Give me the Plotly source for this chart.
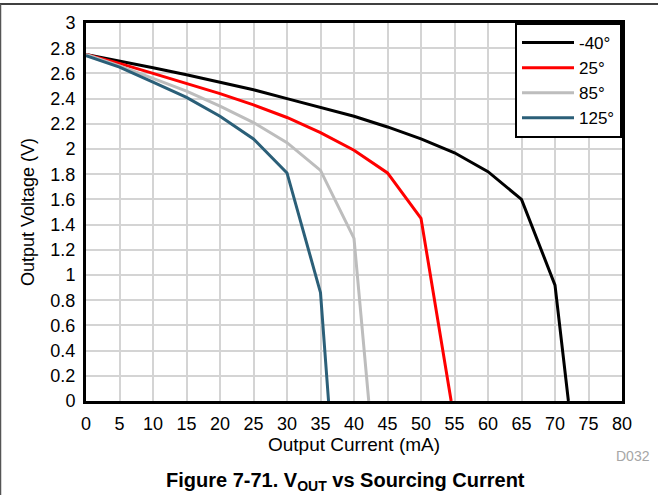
import plotly.graph_objects as go

# Data
current_m40 = [0, 5, 10, 15, 20, 25, 30, 35, 40, 45, 50, 55, 60, 65, 70, 72]
vout_m40 = [2.75, 2.70, 2.645, 2.59, 2.53, 2.47, 2.40, 2.33, 2.26, 2.175, 2.08, 1.97, 1.82, 1.60, 0.92, 0.0]

current_25 = [0, 5, 10, 15, 20, 25, 30, 35, 40, 45, 50, 54.5]
vout_25 = [2.75, 2.68, 2.60, 2.52, 2.44, 2.35, 2.25, 2.13, 1.99, 1.81, 1.45, 0.0]

current_85 = [0, 5, 10, 15, 20, 25, 30, 35, 40, 42.2]
vout_85 = [2.75, 2.66, 2.56, 2.46, 2.34, 2.21, 2.05, 1.83, 1.29, 0.0]

current_125 = [0, 5, 10, 15, 20, 25, 30, 35, 36.2]
vout_125 = [2.74, 2.65, 2.53, 2.41, 2.26, 2.08, 1.81, 0.86, 0.0]

series_names = ["-40°", "25°", "85°", "125°"]
series_colors = ["#000000", "#ff0000", "#bdbdbd", "#2b5f78"]

x_ticks = list(range(0, 81, 5))
y_tickvals = [round(0.2 * i, 1) for i in range(16)]
y_ticktext = ["0", "0.2", "0.4", "0.6", "0.8", "1", "1.2", "1.4", "1.6", "1.8",
              "2", "2.2", "2.4", "2.6", "2.8", "3"]

FONT = "Liberation Sans, Arial, Helvetica, sans-serif"

fig = go.Figure()
for xs, ys, name, col in zip(
    [current_m40, current_25, current_85, current_125],
    [vout_m40, vout_25, vout_85, vout_125],
    series_names, series_colors,
):
    fig.add_trace(go.Scatter(x=xs, y=ys, mode="lines", name=name,
                             line=dict(color=col, width=3)))

W, H = 658, 495
L, R, T, B = 86, 36, 23, 94
pw, ph = W - L - R, H - T - B

def px2paper_x(px):
    return (px - L) / pw

def px2paper_y(py):
    return (H - B - py) / ph

fig.update_layout(
    width=W, height=H,
    margin=dict(l=L, r=R, t=T, b=B),
    paper_bgcolor="white", plot_bgcolor="white",
    font=dict(family=FONT, size=18, color="black"),
    showlegend=True,
    legend=dict(x=1, xanchor="right", y=1, yanchor="top",
                bgcolor="white", bordercolor="black", borderwidth=2,
                font=dict(size=17), itemwidth=52, tracegroupgap=0),
    xaxis=dict(range=[0, 80], tickvals=x_ticks, showgrid=True,
               gridcolor="#d4d4d4", gridwidth=1.5, zeroline=False,
               showline=True, linecolor="black", linewidth=3, mirror=True,
               ticks="outside", ticklen=4, tickcolor="rgba(0,0,0,0)",
               tickfont=dict(size=18),
               title=dict(text="Output Current (mA)", font=dict(size=19), standoff=0)),
    yaxis=dict(range=[0, 3], tickvals=y_tickvals, ticktext=y_ticktext, showgrid=True,
               gridcolor="#d4d4d4", gridwidth=1.5, zeroline=False,
               showline=True, linecolor="black", linewidth=3, mirror=True,
               ticks="outside", ticklen=4, tickcolor="rgba(0,0,0,0)",
               tickfont=dict(size=18),
               title=dict(text="Output Voltage (V)", font=dict(size=18), standoff=12)),
    annotations=[
        dict(text="<b>Figure 7-71. V<sub>OUT</sub> vs Sourcing Current</b>",
             xref="paper", yref="paper", x=px2paper_x(345.5), y=px2paper_y(481),
             xanchor="center", yanchor="middle", showarrow=False,
             font=dict(size=20, color="black")),
        dict(text="D032", xref="paper", yref="paper",
             x=px2paper_x(652), y=px2paper_y(456), xanchor="right", yanchor="middle",
             showarrow=False, font=dict(size=14, color="#a6a6a6")),
    ],
    shapes=[
        dict(type="line", xref="paper", yref="paper",
             x0=px2paper_x(0), x1=px2paper_x(658), y0=px2paper_y(4), y1=px2paper_y(4),
             line=dict(color="black", width=1.5)),
        dict(type="line", xref="paper", yref="paper",
             x0=px2paper_x(0.5), x1=px2paper_x(0.5), y0=px2paper_y(4), y1=px2paper_y(495),
             line=dict(color="#555555", width=1.5)),
    ],
)

fig.write_html("out.html",
               config={"displayModeBar": False},
               post_script="document.body.style.margin='0';document.body.style.overflow='hidden';")
